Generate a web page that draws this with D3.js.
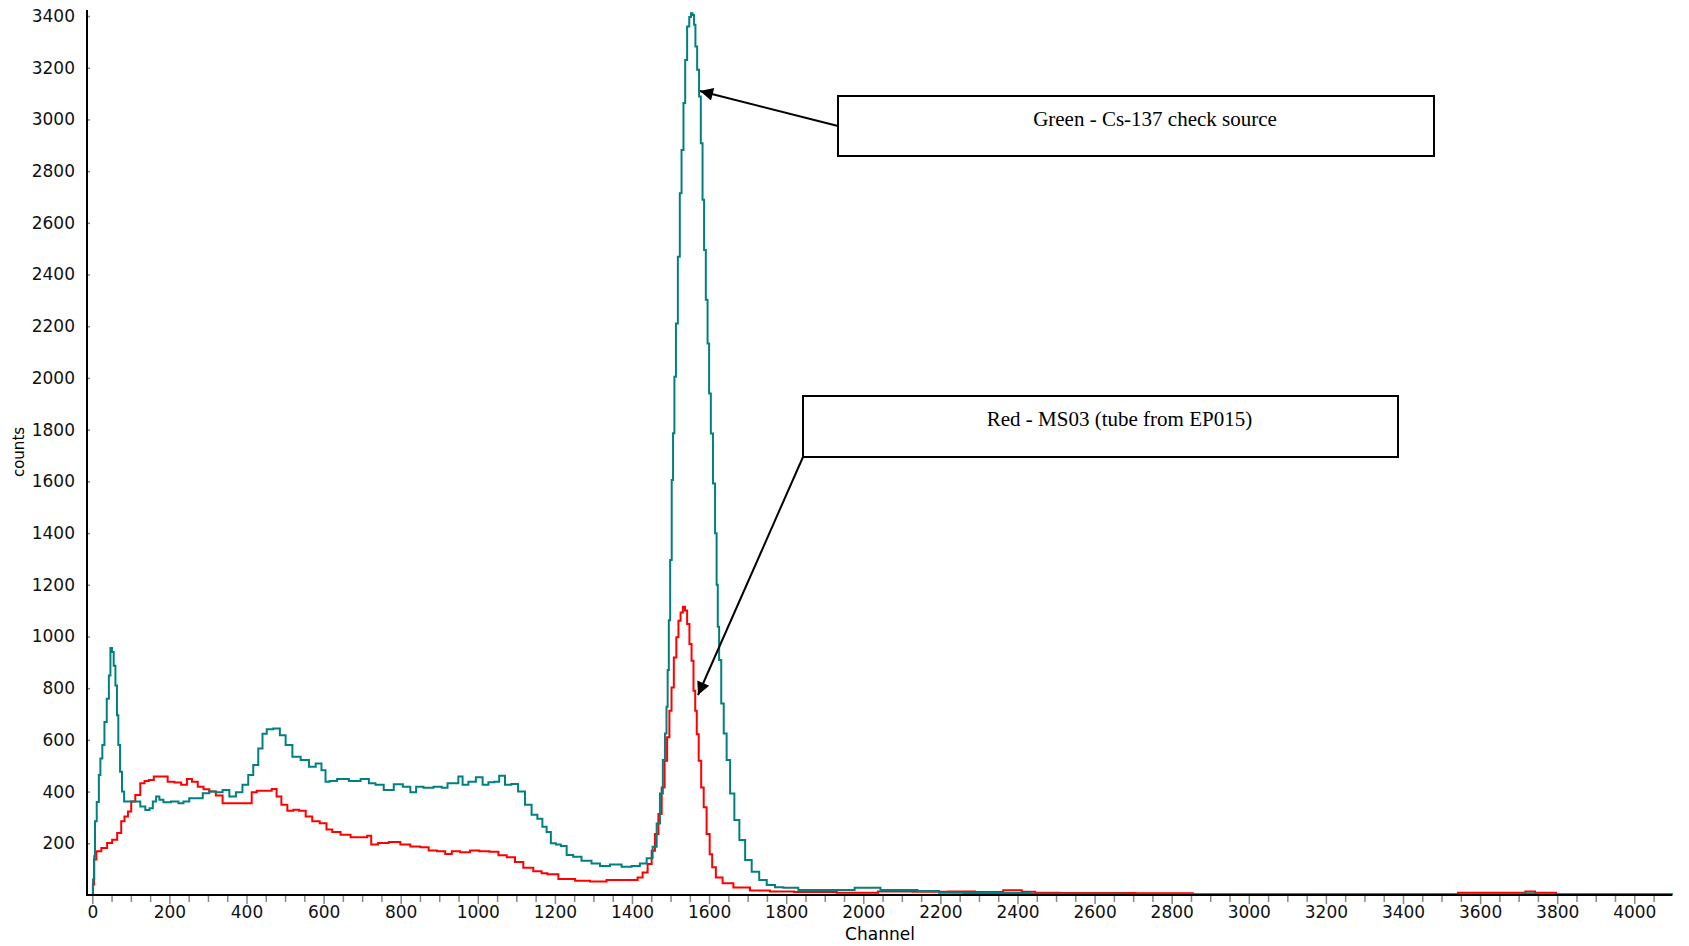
<!DOCTYPE html>
<html>
<head>
<meta charset="utf-8">
<script src="https://cdn.jsdelivr.net/npm/d3@7"></script>
<style>
  body { margin: 0; background: #fff; }
  svg { display: block; }
</style>
</head>
<body>
<svg id="chart"></svg>
<script>
// Cs-137 spectra: [channel, counts]
const greenSpectrum = [
  [0,0],[4,60],[6,150],[8,285],[15,360],[19,464],[23,528],[29,580],[34,669],[41,759],[45,849],[49,955],
  [53,940],[58,887],[62,810],[66,695],[69,580],[75,477],[79,400],[86,362],[97,362],[118,362],[131,342],
  [144,329],[153,336],[161,362],[170,381],[178,368],[191,359],[217,362],[230,355],[243,362],[260,374],
  [278,374],[295,394],[312,400],[329,397],[347,406],[364,381],[381,397],[398,426],[411,464],[424,503],
  [437,567],[446,624],[459,641],[480,644],[493,618],[510,580],[528,535],[553,522],[571,496],[588,509],
  [601,483],[609,438],[622,441],[648,449],[683,441],[709,449],[726,432],[743,426],[769,406],[795,428],
  [816,419],[834,397],[846,419],[872,415],[898,419],[915,415],[928,432],[945,432],[954,458],[967,426],
  [984,438],[1006,455],[1019,426],[1036,436],[1049,438],[1062,461],[1079,426],[1095,429],[1114,400],
  [1131,349],[1148,310],[1161,295],[1174,264],[1183,244],[1196,200],[1209,195],[1222,190],[1239,155],
  [1256,148],[1282,132],[1308,122],[1326,112],[1360,118],[1386,109],[1412,112],[1429,122],[1447,142],
  [1460,187],[1468,277],[1477,393],[1483,522],[1488,625],[1491,728],[1494,870],[1497,1063],[1501,1296],
  [1505,1605],[1508,1786],[1512,2005],[1516,2211],[1522,2469],[1526,2714],[1531,2882],[1536,3063],
  [1540,3230],[1546,3359],[1551,3396],[1555,3411],[1559,3404],[1563,3366],[1566,3282],[1572,3192],
  [1576,3089],[1581,2908],[1585,2689],[1589,2495],[1594,2302],[1598,2133],[1602,1940],[1607,1785],
  [1613,1592],[1618,1399],[1621,1200],[1624,1038],[1628,909],[1635,741],[1641,625],[1650,522],[1659,393],
  [1672,290],[1685,213],[1702,135],[1719,90],[1741,58],[1758,39],[1784,30],[1801,28],[1862,19],[1970,19],
  [1985,28],[2104,19],[2177,15],[2216,9],[2303,8],[2562,5],[2800,3],[3700,3],[3715,6],[3740,6],[3750,3],
  [4100,3]
];

const redSpectrum = [
  [0,0],[3,41],[6,137],[15,169],[32,182],[45,201],[58,214],[71,240],[79,285],[88,304],[97,323],[105,362],
  [118,387],[131,432],[140,441],[153,445],[166,458],[187,458],[204,438],[222,435],[239,426],[252,449],
  [265,438],[282,419],[295,409],[312,400],[329,385],[347,355],[364,355],[381,355],[407,355],[420,397],
  [433,403],[459,403],[472,410],[484,381],[497,349],[515,326],[528,330],[545,326],[562,304],[579,285],
  [601,278],[614,253],[631,244],[657,233],[683,223],[709,223],[717,229],[730,195],[752,201],[786,205],
  [812,195],[838,188],[864,185],[881,172],[907,169],[924,159],[941,169],[967,165],[993,172],[1015,169],
  [1045,167],[1062,154],[1088,146],[1105,128],[1131,105],[1157,92],[1174,84],[1187,80],[1231,62],
  [1274,55],[1308,52],[1360,58],[1408,58],[1421,68],[1434,87],[1447,120],[1455,171],[1464,236],
  [1473,313],[1481,416],[1488,519],[1494,610],[1500,713],[1505,803],[1512,919],[1518,997],[1523,1061],
  [1529,1093],[1535,1115],[1540,1100],[1546,1048],[1552,971],[1557,906],[1562,790],[1566,713],
  [1570,622],[1576,519],[1583,416],[1589,339],[1598,236],[1605,158],[1611,107],[1624,68],[1646,45],
  [1680,29],[1732,17],[1784,14],[1858,12],[2004,9],[2020,9],[2056,14],[2199,13],[2242,14],[2337,12],
  [2389,18],[2433,13],[2458,9],[2562,8],[2850,7],[2860,2],[3540,2],[3545,9],[3715,9],[3720,14],
  [3740,14],[3745,9],[3794,9],[3800,2],[4100,2]
];

const yTicks = d3.range(200, 3401, 200)
const xTicks = d3.range(0, 4001, 200)
const xMinorTicks = d3.range(50, 4051, 50).filter(d => d % 200 !== 0)

const notes = [
  { text: 'Green - Cs-137 check source', box: [838, 96, 1434, 156], from: [838, 126], to: [700, 91] },
  { text: 'Red - MS03 (tube from EP015)', box: [803, 396, 1398, 457], from: [803, 457], to: [698, 695] }
]

const width = 1689
const height = 946

let svg = d3.select('#chart')
  .attr('width', width)
  .attr('height', height)

svg.append('defs').append('marker')
  .attr('id', 'head')
  .attr('viewBox', '0 0 10 10')
  .attr('refX', 10).attr('refY', 5)
  .attr('markerWidth', 16).attr('markerHeight', 13)
  .attr('markerUnits', 'userSpaceOnUse')
  .attr('orient', 'auto')
  .append('path')
  .attr('d', 'M0,0 L10,5 L0,10 z')
  .attr('fill', '#000')

let x = d3.scaleLinear().domain([0, 4000]).range([92.3, 1634.3])
let y = d3.scaleLinear().domain([0, 3400]).range([895, 16])

let axisX0 = 87  // where the y axis sits
let fmt = d3.format('d')

// minor x ticks
svg.append('g')
  .attr('transform', 'translate(0,895)')
  .call(d3.axisBottom(x).tickValues(xMinorTicks).tickSize(7).tickFormat(''))
  .call(g => g.select('.domain').remove())
  .call(g => g.selectAll('line').attr('stroke', '#888').attr('stroke-width', 1.5))

// major x ticks
svg.append('g')
  .attr('transform', 'translate(0,895)')
  .call(d3.axisBottom(x).tickValues(xTicks).tickSize(9).tickPadding(2).tickFormat(fmt))
  .call(g => g.select('.domain').remove())
  .call(g => g.selectAll('line').attr('stroke', '#888').attr('stroke-width', 1.5))
  .call(g => g.selectAll('text')
    .attr('font-family', 'DejaVu Sans').attr('font-size', 17).attr('fill', '#111'))

// y ticks
svg.append('g')
  .attr('transform', 'translate(' + axisX0 + ',0)')
  .call(d3.axisLeft(y).tickValues(yTicks).tickSize(10).tickPadding(2).tickFormat(fmt))
  .call(g => g.select('.domain').remove())
  .call(g => g.selectAll('line').attr('x2', 3).attr('stroke', '#888').attr('stroke-width', 1.5))
  .call(g => g.selectAll('text')
    .attr('font-family', 'DejaVu Sans').attr('font-size', 17).attr('fill', '#111'))

let line = d3.line()
  .curve(d3.curveStep)
  .x(d => x(d[0]))
  .y(d => y(d[1]))

svg.append('path')
  .datum(redSpectrum)
  .attr('d', line)
  .attr('fill', 'none')
  .attr('stroke', '#ff0000')
  .attr('stroke-width', 2)

svg.append('path')
  .datum(greenSpectrum)
  .attr('d', line)
  .attr('fill', 'none')
  .attr('stroke', '#008080')
  .attr('stroke-width', 2)

// axis lines
svg.append('line')
  .attr('x1', axisX0).attr('x2', axisX0)
  .attr('y1', 10).attr('y2', 896)
  .attr('stroke', '#000').attr('stroke-width', 2)
svg.append('line')
  .attr('x1', axisX0 - 1).attr('x2', 1672)
  .attr('y1', 895).attr('y2', 895)
  .attr('stroke', '#000').attr('stroke-width', 2)

svg.append('text')
  .attr('x', 880).attr('y', 940)
  .attr('text-anchor', 'middle')
  .attr('font-family', 'DejaVu Sans').attr('font-size', 17)
  .text('Channel')

svg.append('text')
  .attr('transform', 'translate(24,452) rotate(-90)')
  .attr('text-anchor', 'middle')
  .attr('font-family', 'DejaVu Sans').attr('font-size', 15)
  .text('counts')

// annotation boxes with arrows
notes.forEach(n => {
  svg.append('rect')
    .attr('x', n.box[0]).attr('y', n.box[1])
    .attr('width', n.box[2] - n.box[0]).attr('height', n.box[3] - n.box[1])
    .attr('fill', '#fff').attr('stroke', '#000').attr('stroke-width', 2)
  svg.append('text')
    .attr('x', (n.box[0] + n.box[2]) / 2 + 19).attr('y', n.box[1] + 30)
    .attr('text-anchor', 'middle')
    .attr('font-family', 'Liberation Serif').attr('font-size', 21)
    .text(n.text)
  svg.append('line')
    .attr('x1', n.from[0]).attr('y1', n.from[1])
    .attr('x2', n.to[0]).attr('y2', n.to[1])
    .attr('stroke', '#000').attr('stroke-width', 2)
    .attr('marker-end', 'url(#head)')
})
</script>
</body>
</html>
